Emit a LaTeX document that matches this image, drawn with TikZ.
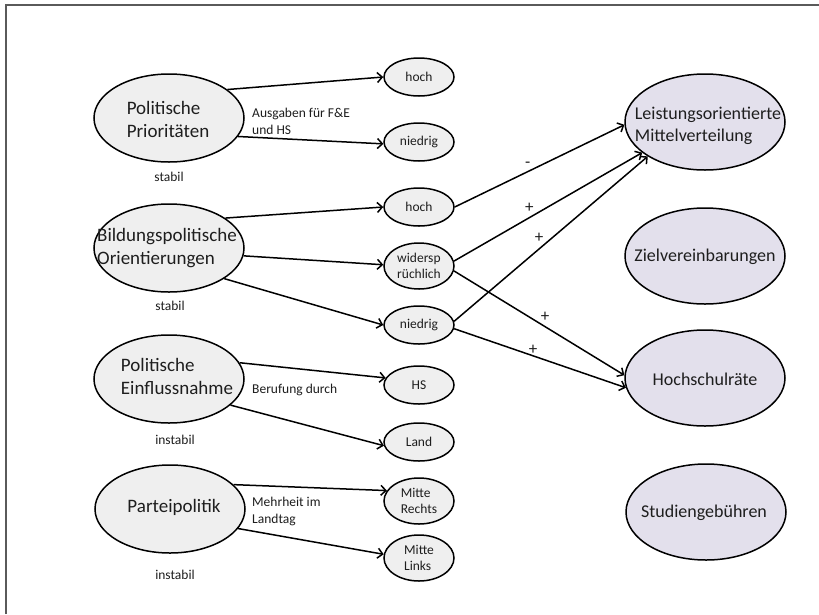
\documentclass[tikz,border=0pt]{standalone}
\usepackage{fontspec}
\setmainfont{Carlito}
\usetikzlibrary{shapes.geometric,arrows.meta}
\definecolor{lgray}{HTML}{EFEFEF}
\definecolor{lav}{HTML}{E3E0EC}
\definecolor{txt}{HTML}{1E1E1E}
\definecolor{frame}{HTML}{5A5A5A}
\begin{document}
\begin{tikzpicture}[x=1pt,y=-1pt,
  ell/.style={ellipse,draw=black,line width=1.5pt,fill=lgray,inner sep=0pt},
  bigell/.style={ell,minimum width=150pt,minimum height=88pt},
  smell/.style={ell,minimum width=70pt,minimum height=38pt},
  smell2/.style={ell,minimum width=70pt,minimum height=46pt},
  rell/.style={ell,fill=lav,minimum width=160pt,minimum height=96pt},
  bigtxt/.style={font=\fontsize{19}{23}\selectfont,align=left,text=txt,inner sep=0pt},
  rtxt/.style={font=\fontsize{18}{22}\selectfont,align=left,text=txt,inner sep=0pt},
  smtxt/.style={font=\fontsize{13.5}{16}\selectfont,align=left,text=txt,inner sep=0pt},
  lab/.style={font=\fontsize{13.5}{17}\selectfont,align=left,text=txt,inner sep=0pt},
  sgn/.style={font=\fontsize{17}{19}\selectfont,text=txt,inner sep=1pt},
  arr/.style={line width=1.5pt,-{Straight Barb[length=5pt,width=10pt]}}
]
\useasboundingbox (0,0) rectangle (819,614);
\fill[white] (0,0) rectangle (819,614);
\draw[frame,line width=1.5pt] (6,614) -- (6,5) -- (819,5);

% left ellipses
\node[bigell] (pp) at (169,118) {};
\node[bigtxt] (ppt) at (168,119) {Politische\\Prioritäten};
\node[bigell] (bo) at (169,248) {};
\node[bigtxt] (bot) at (167,248) {Bildungspolitische\\Orientierungen};
\node[bigell] (pe) at (169,379) {};
\node[bigtxt] (pet) at (177,376) {Politische\\Einflussnahme};
\node[bigell] (pa) at (170,509) {};
\node[bigtxt] (pat) at (174,507) {Parteipolitik};

\node[lab] (st1) at (169,177) {stabil};
\node[lab] (st2) at (170,306) {stabil};
\node[lab] (in1) at (175,440) {instabil};
\node[lab] (in2) at (175,575) {instabil};

% small ellipses
\node[smell] (h1) at (419,77) {};
\node[smtxt] at (h1) {hoch};
\node[smell] (n1) at (419,142) {};
\node[smtxt] at (n1) {niedrig};
\node[smell] (h2) at (419,207) {};
\node[smtxt] at (h2) {hoch};
\node[smell2] (w) at (419,266) {};
\node[smtxt] at (w) {widersp\\rüchlich};
\node[smell] (n2) at (419,325) {};
\node[smtxt] at (n2) {niedrig};
\node[smell] (hs) at (419,385) {};
\node[smtxt] at (hs) {HS};
\node[smell] (la) at (419,442) {};
\node[smtxt] at (la) {Land};
\node[smell2] (mr) at (419,501) {};
\node[smtxt] at (mr) {Mitte\\Rechts};
\node[smell2] (ml) at (419,558) {};
\node[smtxt] at (ml) {Mitte\\Links};

% right ellipses
\node[rell] (lm) at (705,122) {};
\node[rtxt] at (708,126) {Leistungsorientierte\\Mittelverteilung};
\node[rell] (zv) at (705,256) {};
\node[rtxt] at (705,257) {Zielvereinbarungen};
\node[rell] (hr) at (705,378) {};
\node[rtxt] at (705,379) {Hochschulräte};
\node[rell] (sg) at (706,512) {};
\node[rtxt] at (704,513) {Studiengebühren};

% edge labels (left)
\node[lab,anchor=west] (l1) at (252,121) {Ausgaben für F\&E\\und HS};
\node[lab,anchor=west] (l2) at (252,390) {Berufung durch};
\node[lab,anchor=west] (l3) at (252,511) {Mehrheit im\\Landtag};

% left arrows
\draw[arr] (pp.26) -- (h1.west);
\draw[arr] (pp.-15) -- (n1.183);
\draw[arr] (bo.28) -- (h2.west);
\draw[arr] (bo.-6) -- (w.178);
\draw[arr] (bo.-29) -- (n2.west);
\draw[arr] (pe.13) -- (hs.168);
\draw[arr] (pe.-23) -- (la.186);
\draw[arr] (pa.21) -- (mr.162);
\draw[arr] (pa.-16) -- (ml.174);

% right arrows
\draw[arr] (h2.east) -- node[sgn,pos=0.43,above=2pt] {-} (lm.182);
\draw[arr] (w.8) -- node[sgn,pos=0.40,above=3pt] {+} (lm.206);
\draw[arr] (n2.6) -- node[sgn,pos=0.47,above left=0pt] {+} (lm.211);
\draw[arr] (w.-8) -- node[sgn,pos=0.50,above right=0pt] {+} (hr.178);
\draw[arr] (n2.-6) -- node[sgn,pos=0.46,above=0pt] {+} (hr.187);
\end{tikzpicture}
\end{document}
